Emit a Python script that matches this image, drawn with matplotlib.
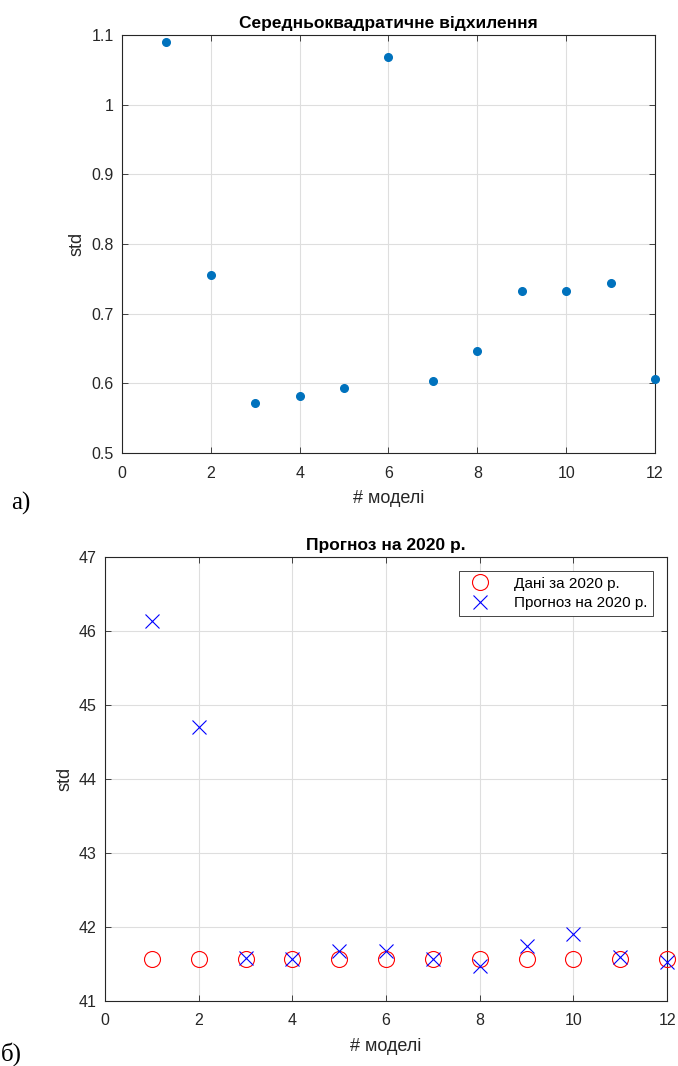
import matplotlib.pyplot as plt
import numpy as np

plt.rcParams["font.family"] = ["Liberation Sans", "DejaVu Sans"]

models = np.arange(1, 13)
std_values = [1.090, 0.756, 0.572, 0.582, 0.593, 1.069, 0.604, 0.647, 0.732, 0.732, 0.744, 0.606]
data_2020 = [41.57, 41.57, 41.57, 41.57, 41.57, 41.57, 41.57, 41.57, 41.57, 41.57, 41.57, 41.57]
forecast_2020 = [46.14, 44.70, 41.58, 41.57, 41.68, 41.67, 41.57, 41.47, 41.74, 41.91, 41.59, 41.52]

x_ticks = [0, 2, 4, 6, 8, 10, 12]
ax_color = "#262626"


def matlab_style(ax):
    """Boxed axes, inward ticks on all sides and light grid like MATLAB."""
    for s in ax.spines.values():
        s.set_color(ax_color)
        s.set_linewidth(0.8)
    ax.tick_params(direction="in", top=True, right=True, length=4,
                   colors=ax_color, labelsize=11.5, width=0.6)
    ax.tick_params(axis="x", pad=9)
    ax.tick_params(axis="y", pad=6)
    ax.grid(True, color="#dedede", linewidth=0.8)
    ax.set_axisbelow(True)
    ax.set_xticks(x_ticks)
    ax.set_xlim(0, 12)


fig = plt.figure(figsize=(6.78, 10.66), dpi=100)

# a) std of each model
ax1 = fig.add_axes([0.180, 0.575, 0.786, 0.392])
ax1.plot(models, std_values, "o", color="#0072BD", markersize=5.5, clip_on=False, zorder=3)
matlab_style(ax1)
ax1.set_ylim(0.5, 1.1)
ax1.set_yticks([0.5, 0.6, 0.7, 0.8, 0.9, 1.0, 1.1])
ax1.set_yticklabels(["0.5", "0.6", "0.7", "0.8", "0.9", "1", "1.1"])
ax1.set_title("Середньоквадратичне відхилення", fontsize=12.5, fontweight="bold", pad=5)
ax1.set_xlabel("# моделі", fontsize=13, color=ax_color, labelpad=7)
ax1.set_ylabel("std", fontsize=13, color=ax_color, labelpad=4)

# b) forecast for 2020
ax2 = fig.add_axes([0.155, 0.061, 0.829, 0.4165])
ax2.plot(models, data_2020, "o", mfc="none", mec="red", markersize=11.5, mew=0.8,
         clip_on=False, zorder=3, label="Дані за 2020 р.")
ax2.plot(models, forecast_2020, "x", color="blue", markersize=10, mew=0.8,
         clip_on=False, zorder=4, label="Прогноз на 2020 р.")
matlab_style(ax2)
ax2.set_ylim(41, 47)
ax2.set_yticks(range(41, 48))
ax2.set_title("Прогноз на 2020 р.", fontsize=12.5, fontweight="bold", pad=5)
ax2.set_xlabel("# моделі", fontsize=13, color=ax_color, labelpad=7)
ax2.set_ylabel("std", fontsize=13, color=ax_color, labelpad=4)
leg = ax2.legend(loc="upper right", fontsize=11, fancybox=False, framealpha=1,
                 edgecolor=ax_color, borderaxespad=0.9, handletextpad=1.2,
                 labelspacing=0.35, borderpad=0.4)
leg.get_frame().set_linewidth(0.6)

fig.text(0.017, 1 - 503 / 1066, "a)", family="Liberation Serif", fontsize=18, va="center", ha="left")
fig.text(0.002, 1 - 1054 / 1066, "б)", family="Liberation Serif", fontsize=18, va="center", ha="left")

fig.savefig("out.png", dpi=100)
